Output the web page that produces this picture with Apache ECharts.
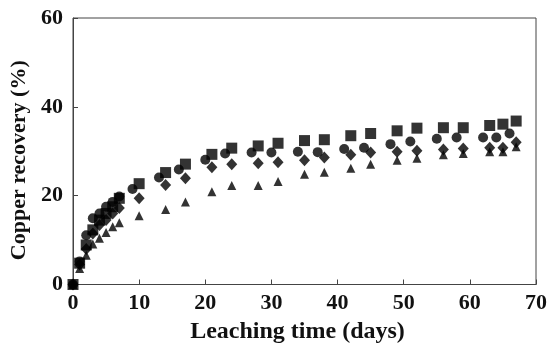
<!DOCTYPE html>
<html>
<head>
<meta charset="utf-8">
<script src="https://cdn.jsdelivr.net/npm/echarts@6/dist/echarts.min.js"></script>
<style>html,body{margin:0;padding:0;background:#fff;}#c{width:550px;height:350px;}</style>
</head>
<body>
<div id="c"></div>
<script>
var squareDays  = [0,1,2,3,4,5,6,7,10,14,17,21,24,28,31,35,38,42,45,49,52,56,59,63,65,67];
var squareVals  = [0,4.8,8.9,12.3,14.5,16.0,17.5,19.4,22.7,25.2,27.1,29.3,30.7,31.2,31.8,32.4,32.6,33.5,34.0,34.6,35.2,35.3,35.3,35.8,36.1,36.8];
var circleDays  = [0,1,2,3,4,5,6,7,9,13,16,20,23,27,30,34,37,41,44,48,51,55,58,62,64,66];
var circleVals  = [0,5.2,11.1,14.9,16.0,17.5,18.6,19.8,21.5,24.1,25.9,28.1,29.5,29.7,29.7,29.9,29.8,30.5,30.8,31.6,32.2,32.8,33.1,33.1,33.1,34.0];
var diamondDays = [0,1,2,3,4,5,6,7,10,14,17,21,24,28,31,35,38,42,45,49,52,56,59,63,65,67];
var diamondVals = [0,4.5,8.0,11.5,13.4,14.5,16.0,17.2,19.4,22.4,23.9,26.4,27.1,27.3,27.5,28.0,28.6,29.2,29.7,29.9,30.1,30.4,30.6,30.8,30.8,32.0];
var triangleDays = [0,1,2,3,4,5,6,7,10,14,17,21,24,28,31,35,38,42,45,49,52,56,59,63,65,67];
var triangleVals = [0,3.6,6.6,9.1,10.4,11.7,13.0,13.9,15.5,16.9,18.6,20.9,22.3,22.3,23.2,24.8,25.3,26.2,27.1,28.0,28.4,29.2,29.5,29.9,29.9,31.0];
var xTicks = [0,10,20,30,40,50,60,70];
var yTicks = [0,20,40,60];

function pairs(xs, ys){ return xs.map(function(x,i){ return [x, ys[i]]; }); }

var font = '"Liberation Serif", "Times New Roman", serif';
var axisColor = '#444';
var chart = echarts.init(document.getElementById('c'), null, {renderer:'canvas'});
chart.setOption({
  animation: false,
  grid: {left: 71, right: 14, top: 18, bottom: 65.5, show: true, borderColor: axisColor, borderWidth: 1, backgroundColor: 'transparent'},
  xAxis: {
    type: 'value', min: xTicks[0], max: xTicks[xTicks.length-1], interval: 10,
    name: 'Leaching time (days)', nameLocation: 'middle', nameGap: 33,
    nameTextStyle: {fontFamily: font, fontWeight: 'bold', fontSize: 24, color: '#111', padding: [0, 14, 0, 0]},
    axisLine: {show: true, lineStyle: {color: axisColor, width: 1}},
    axisTick: {show: true, inside: true, length: 5, lineStyle: {color: axisColor}},
    splitLine: {show: false},
    axisLabel: {fontFamily: font, fontWeight: 'bold', fontSize: 22, color: '#111', margin: 8}
  },
  yAxis: {
    type: 'value', min: yTicks[0], max: yTicks[yTicks.length-1], interval: 20,
    name: 'Copper recovery (%)', nameLocation: 'middle', nameGap: 43,
    nameTextStyle: {fontFamily: font, fontWeight: 'bold', fontSize: 22, color: '#111', padding: [0, 18, 0, 0]},
    axisLine: {show: true, lineStyle: {color: axisColor, width: 1}},
    axisTick: {show: true, inside: true, length: 5, lineStyle: {color: axisColor}},
    splitLine: {show: false},
    axisLabel: {fontFamily: font, fontWeight: 'bold', fontSize: 22, color: '#111', margin: 10}
  },
  series: [
    {type: 'scatter', symbol: 'circle', symbolSize: 10, itemStyle: {color: '#000'}, data: pairs(circleDays, circleVals)},
    {type: 'scatter', symbol: 'triangle', symbolSize: 9, itemStyle: {color: '#000'}, data: pairs(triangleDays, triangleVals)},
    {type: 'scatter', symbol: 'diamond', symbolSize: [11, 12], itemStyle: {color: '#000'}, data: pairs(diamondDays, diamondVals)},
    {type: 'scatter', symbol: 'rect', symbolSize: 11, itemStyle: {color: '#000'}, data: pairs(squareDays, squareVals)}
  ]
});
</script>
</body>
</html>
